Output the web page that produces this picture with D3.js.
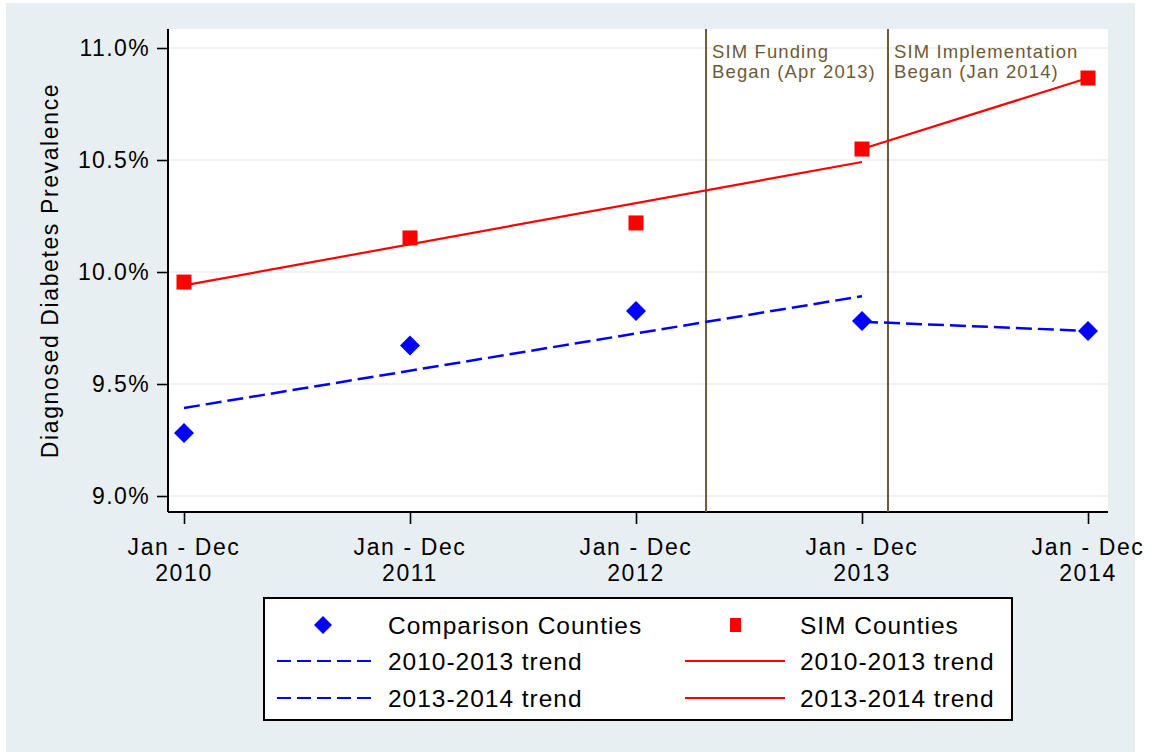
<!DOCTYPE html>
<html>
<head>
<meta charset="utf-8">
<script src="https://cdn.jsdelivr.net/npm/d3@7"></script>
<style>
  html, body { margin: 0; padding: 0; background: #ffffff; }
  svg { display: block; font-family: "Liberation Sans", Arial, Helvetica, sans-serif; }
</style>
</head>
<body>
<svg id="chart" width="1157" height="752"></svg>
<script>
// ---- data ----
const years = [2010, 2011, 2012, 2013, 2014];
const xTickTop = ["Jan - Dec", "Jan - Dec", "Jan - Dec", "Jan - Dec", "Jan - Dec"];
const xTickBottom = ["2010", "2011", "2012", "2013", "2014"];
const yTicks = [9.0, 9.5, 10.0, 10.5, 11.0];
const comparisonCounties = [9.281, 9.672, 9.826, 9.781, 9.737];
const simCounties = [9.955, 10.152, 10.219, 10.549, 10.866];
const compTrend2010_2013 = [[2010, 9.393], [2013, 9.892]];
const compTrend2013_2014 = [[2013, 9.778], [2014, 9.737]];
const simTrend2010_2013 = [[2010, 9.940], [2013, 10.491]];
const simTrend2013_2014 = [[2013, 10.549], [2014, 10.866]];
const eventX = [2012.31, 2013.115];
const eventLabels = [["SIM Funding", "Began (Apr 2013)"], ["SIM Implementation", "Began (Jan 2014)"]];
const yLabel = "Diagnosed Diabetes Prevalence";
const legendRows = [
  ["Comparison Counties", "SIM Counties"],
  ["2010-2013 trend", "2010-2013 trend"],
  ["2013-2014 trend", "2013-2014 trend"]
];

// ---- layout ----
const svg = d3.select("#chart");
const plot = { left: 168, right: 1108, top: 29, bottom: 512 };
const x = d3.scaleLinear().domain([2010, 2014]).range([184, 1088]);
const y = d3.scaleLinear().domain([9, 11]).range([496, 48]);
const BLUE = "#0000ff", RED = "#ff0000", BROWN = "#6e5a36", BG = "#e8eff2";
const LS = "0.07em";

// outer background
svg.append("rect").attr("x", 6).attr("y", 3).attr("width", 1129).attr("height", 749).attr("fill", BG);
// plot region
svg.append("rect").attr("x", plot.left).attr("y", plot.top)
  .attr("width", plot.right - plot.left).attr("height", plot.bottom - plot.top).attr("fill", "#ffffff");

// grid lines
svg.append("g").selectAll("line").data(yTicks).join("line")
  .attr("x1", plot.left).attr("x2", plot.right)
  .attr("y1", d => y(d)).attr("y2", d => y(d))
  .attr("stroke", "#e9f0f3").attr("stroke-width", 1.6);

// y axis
const yAxis = d3.axisLeft(y).tickValues(yTicks).tickFormat(d => d3.format(".1f")(d) + "%").tickSize(11).tickSizeOuter(0).tickPadding(7);
const gy = svg.append("g").attr("transform", `translate(${plot.left},0)`).call(yAxis);
gy.select(".domain").remove();
gy.selectAll(".tick line").attr("stroke", "#000").attr("stroke-width", 1.6);
gy.selectAll(".tick text").attr("font-size", 23).attr("fill", "#000").style("letter-spacing", "0.06em")
  .attr("font-family", "Liberation Sans, Arial, sans-serif");
svg.append("line").attr("x1", plot.left).attr("x2", plot.left).attr("y1", plot.top).attr("y2", plot.bottom)
  .attr("stroke", "#000").attr("stroke-width", 2);

// x axis
const xAxis = d3.axisBottom(x).tickValues(years).tickFormat("").tickSize(12).tickSizeOuter(0);
const gx = svg.append("g").attr("transform", `translate(0,${plot.bottom})`).call(xAxis);
gx.select(".domain").remove();
gx.selectAll(".tick line").attr("stroke", "#000").attr("stroke-width", 1.6);
svg.append("line").attr("x1", plot.left).attr("x2", plot.right).attr("y1", plot.bottom).attr("y2", plot.bottom)
  .attr("stroke", "#000").attr("stroke-width", 2);
const xl = svg.append("g").selectAll("text").data(years).join("text")
  .attr("x", d => x(d)).attr("text-anchor", "middle").attr("font-size", 23).attr("fill", "#000")
  .style("letter-spacing", LS);
xl.append("tspan").attr("x", d => x(d)).attr("y", 555).text((d, i) => xTickTop[i]);
xl.append("tspan").attr("x", d => x(d)).attr("y", 581).text((d, i) => xTickBottom[i]);

// y label
svg.append("text").attr("transform", `translate(58,${(plot.top + plot.bottom) / 2}) rotate(-90)`)
  .attr("text-anchor", "middle").attr("font-size", 23).attr("fill", "#000").style("letter-spacing", LS)
  .text(yLabel);

// event lines + labels
eventX.forEach((ex, i) => {
  svg.append("line").attr("x1", x(ex)).attr("x2", x(ex)).attr("y1", plot.top).attr("y2", plot.bottom)
    .attr("stroke", BROWN).attr("stroke-width", 2);
  const t = svg.append("text").attr("font-size", 18.5).attr("fill", BROWN).style("letter-spacing", "0.06em");
  eventLabels[i].forEach((s, j) => {
    t.append("tspan").attr("x", x(ex) + 6).attr("y", 58 + j * 20).text(s);
  });
});

// trend lines
const line = d3.line().x(d => x(d[0])).y(d => y(d[1]));
svg.append("path").attr("d", line(simTrend2010_2013)).attr("fill", "none").attr("stroke", RED).attr("stroke-width", 2.2);
svg.append("path").attr("d", line(simTrend2013_2014)).attr("fill", "none").attr("stroke", RED).attr("stroke-width", 2.2);
svg.append("path").attr("d", line(compTrend2010_2013)).attr("fill", "none").attr("stroke", BLUE).attr("stroke-width", 2.5).attr("stroke-dasharray", "16,6");
svg.append("path").attr("d", line(compTrend2013_2014)).attr("fill", "none").attr("stroke", BLUE).attr("stroke-width", 2.5).attr("stroke-dasharray", "16,6");

// markers
const diamond = (cx, cy, r) => `M${cx},${cy - r}L${cx + r},${cy}L${cx},${cy + r}L${cx - r},${cy}Z`;
svg.append("g").selectAll("path").data(years).join("path")
  .attr("d", (d, i) => diamond(x(d), y(comparisonCounties[i]), 10)).attr("fill", BLUE);
svg.append("g").selectAll("rect").data(years).join("rect")
  .attr("x", d => x(d) - 7.5).attr("y", (d, i) => y(simCounties[i]) - 7.5)
  .attr("width", 15).attr("height", 15).attr("fill", RED);

// legend
const lg = svg.append("g");
lg.append("rect").attr("x", 264).attr("y", 598).attr("width", 748).attr("height", 122)
  .attr("fill", "#fff").attr("stroke", "#000").attr("stroke-width", 2);
const rowY = [625, 661, 698];
// col 1
lg.append("path").attr("d", diamond(323, rowY[0], 9)).attr("fill", BLUE);
[1, 2].forEach(r => lg.append("line").attr("x1", 277).attr("x2", 373).attr("y1", rowY[r]).attr("y2", rowY[r])
  .attr("stroke", BLUE).attr("stroke-width", 2.2).attr("stroke-dasharray", "14,6"));
// col 2
lg.append("rect").attr("x", 730).attr("y", rowY[0] - 7).attr("width", 11).attr("height", 14).attr("fill", RED);
[1, 2].forEach(r => lg.append("line").attr("x1", 685).attr("x2", 785).attr("y1", rowY[r]).attr("y2", rowY[r])
  .attr("stroke", RED).attr("stroke-width", 2.2));
legendRows.forEach((row, r) => {
  [388, 800].forEach((lx, c) => {
    lg.append("text").attr("x", lx).attr("y", rowY[r]).attr("dy", "0.36em")
      .attr("font-size", 24.5).attr("fill", "#000").style("letter-spacing", "0.04em").text(row[c]);
  });
});
</script>
</body>
</html>
